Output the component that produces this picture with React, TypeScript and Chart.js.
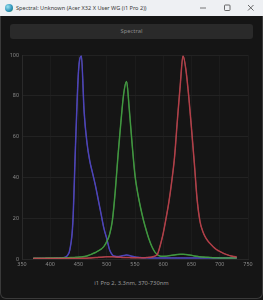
import React, { useEffect, useRef } from "react";
import { Chart, registerables } from "chart.js";

Chart.register(...registerables);

const windowTitle = "Spectral: Unknown (Acer X32 X User WG (i1 Pro 2))";
const buttonLabel = "Spectral";
const footerLabel = "i1 Pro 2, 3.3nm, 370-730nm";

const wavelengths = [
  370, 375, 380, 385, 390, 395, 400, 405, 410,
  415, 420, 425, 430, 435, 440, 445, 450, 455, 460, 465, 470, 475, 480, 485, 490,
  495, 500, 505, 510, 515, 520, 525, 530, 535, 540, 545, 550, 555, 560, 565, 570,
  575, 580, 585, 590,
  595, 600, 605, 610, 615, 620, 625, 630, 635, 640, 645, 650, 655, 660, 665, 670,
  675, 680, 685, 690, 695, 700, 705, 710, 715, 720, 725, 730,
];

const blueValues = [
  0.3, 0.3, 0.3, 0.3, 0.3, 0.3, 0.3, 0.3, 0.4,
  0.4, 0.5, 0.8, 1.6, 5, 18, 58, 92, 99.5, 72, 57, 48, 42, 36, 29, 22,
  15, 10, 4.5, 2, 1.3, 1.2, 1.4, 1.7, 1.9, 1.7, 1.3, 1, 0.8, 0.7, 0.6, 0.6,
  0.5, 0.5, 0.5, 0.5,
  0.5, 0.5, 0.5, 0.5, 0.5, 0.5, 0.5, 0.5, 0.5, 0.5, 0.5, 0.5, 0.5, 0.5, 0.5, 0.5,
  0.5, 0.5, 0.5, 0.5, 0.5, 0.5, 0.5, 0.5, 0.5, 0.5, 0.5, 0.5,
];

const greenValues = [
  0.4, 0.4, 0.4, 0.4, 0.4, 0.5, 0.5, 0.5, 0.5,
  0.5, 0.6, 0.6, 0.6, 0.7, 0.7, 0.8, 0.9, 1, 1.2, 1.5, 2, 2.6, 3.2, 4, 4.8,
  6.2, 8.5, 12, 19, 33, 51, 67, 81, 87, 73, 56, 41, 32, 25, 19, 14,
  9.5, 6, 3.5, 2,
  1.4, 1.3, 1.4, 1.6, 1.8, 2, 2.2, 2.3, 2.3, 2.2, 2, 1.8, 1.5, 1.3, 1.1, 1,
  0.9, 0.8, 0.7, 0.6, 0.6, 0.5, 0.5, 0.5, 0.5, 0.5, 0.5, 0.5,
];

const redValues = [
  0.3, 0.3, 0.3, 0.3, 0.3, 0.3, 0.3, 0.3, 0.3,
  0.3, 0.3, 0.3, 0.3, 0.3, 0.3, 0.3, 0.3, 0.3, 0.4, 0.4, 0.5, 0.6, 0.7, 0.8, 0.9,
  1, 1.1, 1.1, 1.1, 1, 0.9, 0.8, 0.7, 0.7, 0.7, 0.6, 0.6, 0.6, 0.6, 0.6, 0.7,
  0.8, 1, 1.4, 2.5,
  7, 12.7, 20, 28, 38, 50, 68, 85, 99.5, 93, 80, 64, 47, 29, 18.5, 13.5,
  10.5, 8.5, 7, 5.6, 4.5, 3.7, 3, 2.4, 1.9, 1.5, 1.2, 1,
];

const xTickValues = [350, 400, 450, 500, 550, 600, 650, 700, 750];
const yTickValues = [0, 20, 40, 60, 80, 100];

const seriesList = [
  { name: "Red", values: redValues, outer: "rgba(190,60,70,0.85)", inner: "rgb(235,170,170)" },
  { name: "Green", values: greenValues, outer: "rgba(60,160,60,0.85)", inner: "rgb(170,225,160)" },
  { name: "Blue", values: blueValues, outer: "rgba(75,65,200,0.85)", inner: "rgb(180,180,245)" },
];

function SpectralChart() {
  const ref = useRef<HTMLCanvasElement | null>(null);
  useEffect(() => {
    if (!ref.current) return;
    const datasets: any[] = [];
    seriesList.forEach((s) => {
      const pts = wavelengths.map((w, i) => ({ x: w, y: s.values[i] }));
      datasets.push({
        label: s.name,
        data: pts,
        borderColor: s.outer,
        borderWidth: 1.5,
        pointRadius: 0,
        cubicInterpolationMode: "monotone",
        fill: false,
      });
      datasets.push({
        label: s.name + " core",
        data: pts,
        borderColor: s.inner,
        borderWidth: 0.5,
        pointRadius: 0,
        cubicInterpolationMode: "monotone",
        fill: false,
      });
    });
    const tickFont = { family: '"Noto Sans", sans-serif', size: 5.4 };
    const chart = new Chart(ref.current, {
      type: "line",
      data: { datasets },
      options: {
        animation: false,
        responsive: false,
        layout: { padding: { top: 11, right: 15, left: 0, bottom: 0 } },
        plugins: { legend: { display: false }, tooltip: { enabled: false } },
        scales: {
          x: {
            type: "linear",
            min: 350,
            max: 750,
            afterBuildTicks: (scale: any) => {
              scale.ticks = xTickValues.map((v) => ({ value: v }));
            },
            afterFit: (scale: any) => {
              scale.height = 17;
            },
            ticks: { color: "#8c8c8c", font: tickFont, maxRotation: 0, padding: 2 },
            grid: { color: "rgba(255,255,255,0.03)", drawTicks: false },
            border: { color: "#262626" },
          },
          y: {
            type: "linear",
            min: 0,
            max: 100,
            afterBuildTicks: (scale: any) => {
              scale.ticks = yTickValues.map((v) => ({ value: v }));
            },
            afterFit: (scale: any) => {
              scale.width = 22;
            },
            ticks: { color: "#8c8c8c", font: tickFont, padding: 3 },
            grid: { color: "#222222", drawTicks: false },
            border: { color: "#2a2a2a" },
          },
        },
      },
    });
    return () => chart.destroy();
  }, []);
  return <canvas ref={ref} width={263} height={232} style={{ display: "block" }} />;
}

export default function App() {
  const font = '"Noto Sans", "Open Sans", sans-serif';
  return (
    <div
      style={{
        position: "fixed",
        left: 0,
        top: 0,
        width: 263,
        height: 300,
        overflow: "hidden",
        background: "#151515",
        fontFamily: font,
      }}
    >
      <div
        style={{
          position: "absolute",
          left: 0,
          top: 0,
          width: 263,
          height: 16,
          background: "#eef0f3",
        }}
      >
        <div
          style={{
            position: "absolute",
            left: 5,
            top: 4,
            width: 8,
            height: 8,
            borderRadius: 4,
            background: "radial-gradient(circle at 35% 35%, #9be3f0, #2a8fb8 60%, #3c8a3c)",
          }}
        />
        <div
          style={{
            position: "absolute",
            left: 16,
            top: 0,
            height: 16,
            lineHeight: "16px",
            fontSize: 5.6,
            color: "#3a3a3a",
            whiteSpace: "nowrap",
          }}
        >
          {windowTitle}
        </div>
        <svg width={263} height={16} style={{ position: "absolute", left: 0, top: 0 }}>
          <line x1={200} y1={8} x2={206} y2={8} stroke="#555" strokeWidth={0.8} />
          <rect x={224.5} y={5} width={5.5} height={5.5} fill="none" stroke="#444" strokeWidth={0.8} rx={0.8} />
          <line x1={248} y1={5} x2={253.5} y2={10.5} stroke="#444" strokeWidth={0.8} />
          <line x1={253.5} y1={5} x2={248} y2={10.5} stroke="#444" strokeWidth={0.8} />
        </svg>
      </div>
      <div
        style={{
          position: "absolute",
          left: 10,
          top: 24,
          width: 243,
          height: 15,
          borderRadius: 3,
          background: "#2a2a2a",
          color: "#8a8a8a",
          fontSize: 5.8,
          lineHeight: "15px",
          textAlign: "center",
        }}
      >
        {buttonLabel}
      </div>
      <div style={{ position: "absolute", left: 0, top: 44, width: 263, height: 232 }}>
        <SpectralChart />
      </div>
      <div
        style={{
          position: "absolute",
          left: 0,
          top: 279,
          width: 263,
          textAlign: "center",
          fontSize: 5.8,
          lineHeight: "8px",
          color: "#9a9a9a",
        }}
      >
        {footerLabel}
      </div>
      <div
        style={{
          position: "absolute",
          left: 0,
          top: 16,
          width: 261,
          height: 282,
          border: "1px solid #3a3a3a",
          borderTop: "none",
          borderRadius: "0 0 6px 6px",
          pointerEvents: "none",
        }}
      />
    </div>
  );
}
